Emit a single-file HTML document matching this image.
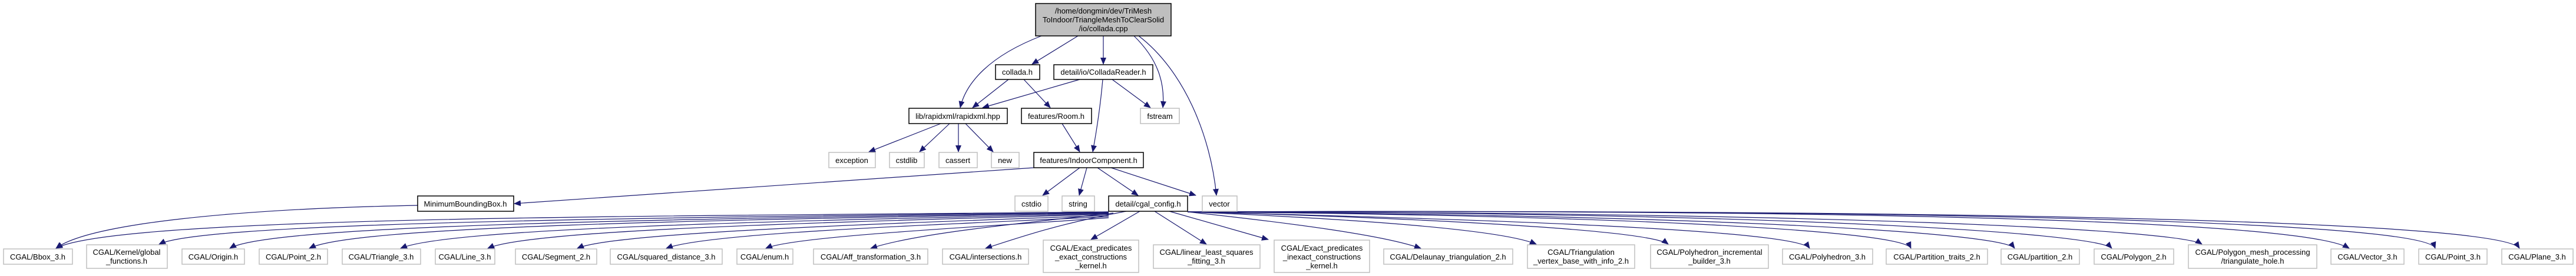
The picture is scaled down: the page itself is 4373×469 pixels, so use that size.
<!DOCTYPE html>
<html><head><meta charset="utf-8"><style>
html,body{margin:0;padding:0;background:#fff;}
svg{display:block;}
text{font-family:"Liberation Sans",Arial,sans-serif;font-size:13px;fill:#000;}
</style></head><body>
<svg width="4373" height="469" viewBox="0 0 4373 469" xmlns="http://www.w3.org/2000/svg">
<defs>
<marker id="a" markerWidth="12" markerHeight="10" refX="11" refY="5" orient="auto" markerUnits="userSpaceOnUse">
<polygon points="0,0 12,5 0,10" fill="#191970"/>
</marker>
</defs>
<g fill="none" stroke="#191970" stroke-width="1.2" marker-end="url(#a)">
<path d="M1768,61 C1680,95 1640,140 1630,183"/>
<path d="M1830,61 L1752,109"/>
<path d="M1873,61 L1873,109"/>
<path d="M1925,61 C1965,100 1978,140 1974,183"/>
<path d="M1933,61 C2010,120 2055,230 2065,332"/>
<path d="M1712,135 L1651,183"/>
<path d="M1738,135 L1783,183"/>
<path d="M1833,135 L1668,183"/>
<path d="M1872,135 C1868,180 1862,220 1855,258"/>
<path d="M1888,135 L1953,183"/>
<path d="M1597,210 L1475,258"/>
<path d="M1612,210 L1561,258"/>
<path d="M1627,210 L1627,258"/>
<path d="M1639,210 L1686,258"/>
<path d="M1803,210 L1833,258"/>
<path d="M1755,285 L873,346"/>
<path d="M1833,285 L1770,332"/>
<path d="M1845,285 L1832,332"/>
<path d="M1863,285 L1932,332"/>
<path d="M1886,285 L2030,332"/>
<path d="M709,349 C400,355 150,380 95,422"/>
<path d="M1882,360 C1200,368 200,365 95,422"/>
<path d="M1882,360 C1200,370 350,375 270,415"/>
<path d="M1882,361 C1200,372 460,380 390,422"/>
<path d="M1882,362 C1200,374 600,384 525,422"/>
<path d="M1882,363 C1300,376 760,388 680,422"/>
<path d="M1882,364 C1400,378 900,390 828,422"/>
<path d="M1882,366 C1500,380 1040,395 980,422"/>
<path d="M1882,368 C1600,382 1200,395 1131,422"/>
<path d="M1882,370 C1700,384 1350,400 1300,422"/>
<path d="M1890,362 C1750,378 1560,395 1478,422"/>
<path d="M1912,359 C1800,380 1740,400 1673,422"/>
<path d="M1935,359 L1852,407"/>
<path d="M1960,359 L2048,415"/>
<path d="M1985,359 L2153,407"/>
<path d="M2016,360 C2200,380 2350,400 2412,422"/>
<path d="M2016,360 C2300,372 2550,390 2608,415"/>
<path d="M2016,360 C2400,370 2800,390 2832,415"/>
<path d="M2016,360 C2500,372 3050,390 3072,422"/>
<path d="M2016,360 C2700,365 3230,390 3244,422"/>
<path d="M2016,360 C2900,365 3400,395 3420,422"/>
<path d="M2016,360 C3000,360 3560,395 3585,422"/>
<path d="M2016,360 C3100,360 3700,390 3738,415"/>
<path d="M2016,360 C3300,355 3920,380 3988,422"/>
<path d="M2016,360 C3400,355 4120,380 4134,422"/>
<path d="M2016,360 C3500,355 4250,380 4277,422"/>
</g>
<g stroke-width="1.5">
<rect x="1758" y="6" width="230" height="55" fill="#bfbfbf" stroke="#000"/>
<g fill="#fff" stroke="#000">
<rect x="1690" y="110" width="75" height="25"/>
<rect x="1789" y="110" width="168" height="25"/>
<rect x="1543" y="184" width="167" height="26"/>
<rect x="1734" y="184" width="119" height="26"/>
<rect x="1755" y="259" width="186" height="26"/>
<rect x="1882" y="333" width="134" height="26"/>
<rect x="709" y="333" width="163" height="26"/>
</g>
<g fill="#fff" stroke="#bfbfbf">
<rect x="1936" y="184" width="66" height="26"/>
<rect x="1407" y="259" width="79" height="26"/>
<rect x="1510" y="259" width="59" height="26"/>
<rect x="1594" y="259" width="65" height="26"/>
<rect x="1683" y="259" width="47" height="26"/>
<rect x="1723" y="333" width="56" height="26"/>
<rect x="1803" y="333" width="55" height="26"/>
<rect x="2041" y="333" width="59" height="26"/>
<rect x="6" y="423" width="117" height="26"/>
<rect x="147" y="416" width="137" height="40"/>
<rect x="309" y="423" width="106" height="26"/>
<rect x="440" y="423" width="116" height="26"/>
<rect x="581" y="423" width="133" height="26"/>
<rect x="739" y="423" width="101" height="26"/>
<rect x="875" y="423" width="138" height="26"/>
<rect x="1036" y="423" width="190" height="26"/>
<rect x="1251" y="423" width="95" height="26"/>
<rect x="1381" y="423" width="194" height="26"/>
<rect x="1600" y="423" width="146" height="26"/>
<rect x="1771" y="408" width="162" height="55"/>
<rect x="1958" y="416" width="181" height="40"/>
<rect x="2163" y="408" width="162" height="55"/>
<rect x="2349" y="423" width="219" height="26"/>
<rect x="2593" y="416" width="182" height="40"/>
<rect x="2802" y="416" width="200" height="40"/>
<rect x="3026" y="423" width="153" height="26"/>
<rect x="3202" y="423" width="172" height="26"/>
<rect x="3397" y="423" width="133" height="26"/>
<rect x="3555" y="423" width="135" height="26"/>
<rect x="3715" y="416" width="218" height="40"/>
<rect x="3957" y="423" width="124" height="26"/>
<rect x="4106" y="423" width="116" height="26"/>
<rect x="4247" y="423" width="121" height="26"/>
</g>
</g>
<g text-anchor="middle">
<text x="1873" y="23">/home/dongmin/dev/TriMesh</text>
<text x="1873" y="38">ToIndoor/TriangleMeshToClearSolid</text>
<text x="1873" y="53">/io/collada.cpp</text>
<text x="1727" y="127">collada.h</text>
<text x="1873" y="127">detail/io/ColladaReader.h</text>
<text x="1626" y="202">lib/rapidxml/rapidxml.hpp</text>
<text x="1793" y="202">features/Room.h</text>
<text x="1969" y="202">fstream</text>
<text x="1446" y="277">exception</text>
<text x="1539" y="277">cstdlib</text>
<text x="1626" y="277">cassert</text>
<text x="1706" y="277">new</text>
<text x="1848" y="277">features/IndoorComponent.h</text>
<text x="1751" y="351">cstdio</text>
<text x="1830" y="351">string</text>
<text x="1949" y="351">detail/cgal_config.h</text>
<text x="2070" y="351">vector</text>
<text x="790" y="351">MinimumBoundingBox.h</text>
<text x="64" y="441">CGAL/Bbox_3.h</text>
<text x="215" y="433">CGAL/Kernel/global</text>
<text x="215" y="448">_functions.h</text>
<text x="362" y="441">CGAL/Origin.h</text>
<text x="498" y="441">CGAL/Point_2.h</text>
<text x="647" y="441">CGAL/Triangle_3.h</text>
<text x="789" y="441">CGAL/Line_3.h</text>
<text x="944" y="441">CGAL/Segment_2.h</text>
<text x="1131" y="441">CGAL/squared_distance_3.h</text>
<text x="1298" y="441">CGAL/enum.h</text>
<text x="1478" y="441">CGAL/Aff_transformation_3.h</text>
<text x="1673" y="441">CGAL/intersections.h</text>
<text x="1852" y="426">CGAL/Exact_predicates</text>
<text x="1852" y="441">_exact_constructions</text>
<text x="1852" y="456">_kernel.h</text>
<text x="2048" y="433">CGAL/linear_least_squares</text>
<text x="2048" y="448">_fitting_3.h</text>
<text x="2244" y="426">CGAL/Exact_predicates</text>
<text x="2244" y="441">_inexact_constructions</text>
<text x="2244" y="456">_kernel.h</text>
<text x="2458" y="441">CGAL/Delaunay_triangulation_2.h</text>
<text x="2684" y="433">CGAL/Triangulation</text>
<text x="2684" y="448">_vertex_base_with_info_2.h</text>
<text x="2902" y="433">CGAL/Polyhedron_incremental</text>
<text x="2902" y="448">_builder_3.h</text>
<text x="3102" y="441">CGAL/Polyhedron_3.h</text>
<text x="3288" y="441">CGAL/Partition_traits_2.h</text>
<text x="3463" y="441">CGAL/partition_2.h</text>
<text x="3622" y="441">CGAL/Polygon_2.h</text>
<text x="3824" y="433">CGAL/Polygon_mesh_processing</text>
<text x="3824" y="448">/triangulate_hole.h</text>
<text x="4019" y="441">CGAL/Vector_3.h</text>
<text x="4164" y="441">CGAL/Point_3.h</text>
<text x="4307" y="441">CGAL/Plane_3.h</text>
</g>
</svg>
</body></html>
